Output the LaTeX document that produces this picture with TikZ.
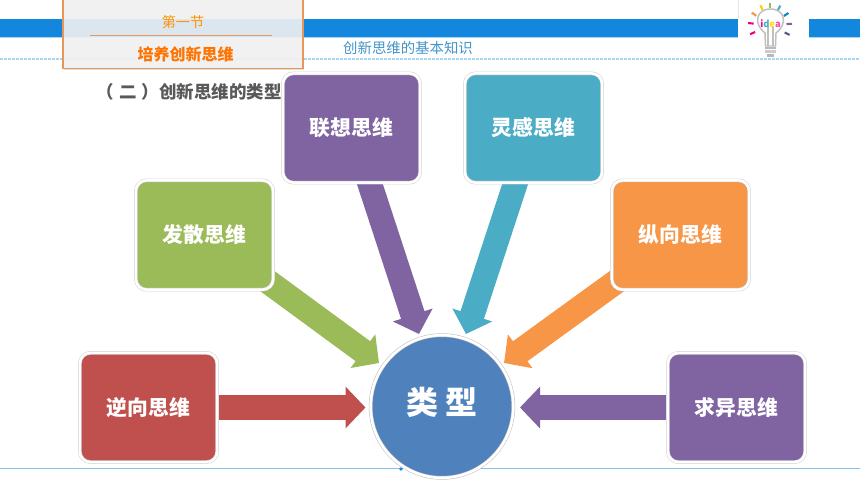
\documentclass[tikz,border=0pt]{standalone}
\usepackage{fontspec}
\setmainfont{Noto Sans CJK SC}
\usetikzlibrary{arrows.meta,backgrounds,shadows}

\definecolor{bandblue}{HTML}{1287DD}
\definecolor{dotblue}{HTML}{A6D6F2}
\definecolor{redbox}{HTML}{C0504D}
\definecolor{greenbox}{HTML}{9BBB59}
\definecolor{purplebox}{HTML}{8064A2}
\definecolor{tealbox}{HTML}{4BACC6}
\definecolor{orangebox}{HTML}{F79646}
\definecolor{centreblue}{HTML}{4F81BD}
\definecolor{cardedge}{HTML}{E8965A}

\tikzset{
	thinkbox/.style={draw=black!18, line width=0.4pt, double=white, double distance=1.9pt, rounded corners=8pt, minimum width=103pt, minimum height=82pt, inner sep=0pt, text=white, font=\fontsize{15.6pt}{18pt}\selectfont\bfseries, drop shadow={opacity=0.3, shadow xshift=0pt, shadow yshift=-0.8pt}},
	thickarrow/.style={line width=18.5pt, -{Triangle[length=15pt, width=30.5pt]}}
}

\begin{document}
\begin{tikzpicture}[x=0.75pt, y=-0.75pt]
	\useasboundingbox (0,0) rectangle (860,484);
	
	%header band
	\fill[bandblue] (0,19) rectangle (738,37);
	\fill[bandblue] (809,19) rectangle (860,37);
	\draw[dotblue, line width=0.8pt] (0,37.8) -- (738,37.8);
	\draw[dotblue, line width=0.8pt] (809,37.8) -- (860,37.8);
	\draw[dotblue, line width=1.4pt, dash pattern=on 2pt off 1pt] (0,59) -- (860,59);
	\draw[gray!20, line width=0.5pt] (738,0) -- (738,19);
	\draw[dotblue!75!bandblue, line width=0.8pt] (0,468.5) -- (860,468.5);
	\fill[bandblue] (401,469) circle (1.8);
	
	%title card
	\node[draw=cardedge, line width=0.8pt, fill=gray!8, fill opacity=0.87, minimum width=180pt, minimum height=54pt, inner sep=0pt, drop shadow={opacity=0.25, shadow xshift=0.5pt, shadow yshift=-0.9pt}] (card) at (183,32.5){};
	\node[text=orange!85!yellow, font=\fontsize{10.6pt}{12pt}\selectfont] (cardtop) at (183,22){第一节};
	\coordinate (ruleL) at (90,35);
	\coordinate (ruleR) at (272,35);
	\draw[cardedge, line width=0.6pt] (ruleL) -- (ruleR);
	\node[text=orange!90!red, font=\fontsize{12pt}{14pt}\selectfont\bfseries] (cardbot) at (185.5,54){培养创新思维};
	\node[text=centreblue!85!cyan, font=\fontsize{10.8pt}{12pt}\selectfont] (subject) at (408,48){创新思维的基本知识};
	\node[text=black!65, font=\fontsize{13.1pt}{15pt}\selectfont\bfseries, anchor=east, inner sep=0pt] (heading) at (282,92){（\hspace{4pt}二\hspace{4pt}）创新思维的类型};
	
	%light bulb
	\foreach \ang/\col in {155/magenta!80!red, 185/magenta, 214/orangebox, 244/yellow!70!orange, 270/greenbox, 298/tealbox, 327/bandblue!70!teal, 357/purplebox, 27/purplebox!80!black}{
		\draw[\col, line width=1.6pt] ([shift={(\ang:16.5)}]770,25) -- ([shift={(\ang:22)}]770,25);
	}
	\draw[gray!50, line width=1.1pt] (765,33) .. controls (753,24) and (756,9) .. (770.5,9) .. controls (785,9) and (788,24) .. (776,33) -- (775.5,46) -- (765.5,46) -- cycle;
	\draw[gray!50, line width=0.8pt] (768,26) -- (768,46);
	\draw[gray!50, line width=0.8pt] (773,26) -- (773,46);
	\fill[gray!55] (765,47) rectangle (776,49.5);
	\fill[gray!40] (765,50.5) rectangle (776,53);
	\fill[gray!55] (767,54) rectangle (774,57);
	\node[font=\fontsize{7pt}{8pt}\selectfont\bfseries, inner sep=0pt] (bulbtext) at (770.5,23.5){\textcolor{magenta}{i}\textcolor{tealbox}{d}\textcolor{yellow!80!orange}{e}\textcolor{magenta!70}{a}};
	
	%thinking boxes
	\node[thinkbox, fill=redbox] (nixiang) at (148.5,407.5){逆向思维};
	\node[thinkbox, fill=greenbox] (fasan) at (204.5,235){发散思维};
	\node[thinkbox, fill=purplebox] (lianxiang) at (351.5,128){联想思维};
	\node[thinkbox, fill=tealbox] (linggan) at (533.5,128){灵感思维};
	\node[thinkbox, fill=orangebox] (zongxiang) at (680.5,235){纵向思维};
	\node[thinkbox, fill=purplebox] (qiuyi) at (736.5,407.5){求异思维};
	
	%centre circle
	\node[draw=black!25, line width=0.4pt, double=white, double distance=2pt, circle, fill=centreblue, minimum size=107pt, inner sep=0pt, drop shadow={opacity=0.35, shadow xshift=0pt, shadow yshift=-0.8pt}] (leixing) at (442,406.5){};
	\node[text=white, font=\fontsize{24pt}{28pt}\selectfont\bfseries, inner sep=0pt] (leixingtext) at (442,402){类 型};
	
	%arrow tips
	\coordinate (tip1) at (365.5,407.5);
	\coordinate (tip2) at (379,363);
	\coordinate (tip3) at (419,334);
	\coordinate (tip4) at (466,334);
	\coordinate (tip5) at (504,363);
	\coordinate (tip6) at (520,407.5);
	
	\begin{scope}[on background layer]
		\draw[thickarrow, redbox] (nixiang.center) -- (tip1);
		\draw[thickarrow, greenbox] (fasan.center) -- (tip2);
		\draw[thickarrow, purplebox] (lianxiang.center) -- (tip3);
		\draw[thickarrow, tealbox] (linggan.center) -- (tip4);
		\draw[thickarrow, orangebox] (zongxiang.center) -- (tip5);
		\draw[thickarrow, purplebox] (qiuyi.center) -- (tip6);
	\end{scope}
\end{tikzpicture}
\end{document}
